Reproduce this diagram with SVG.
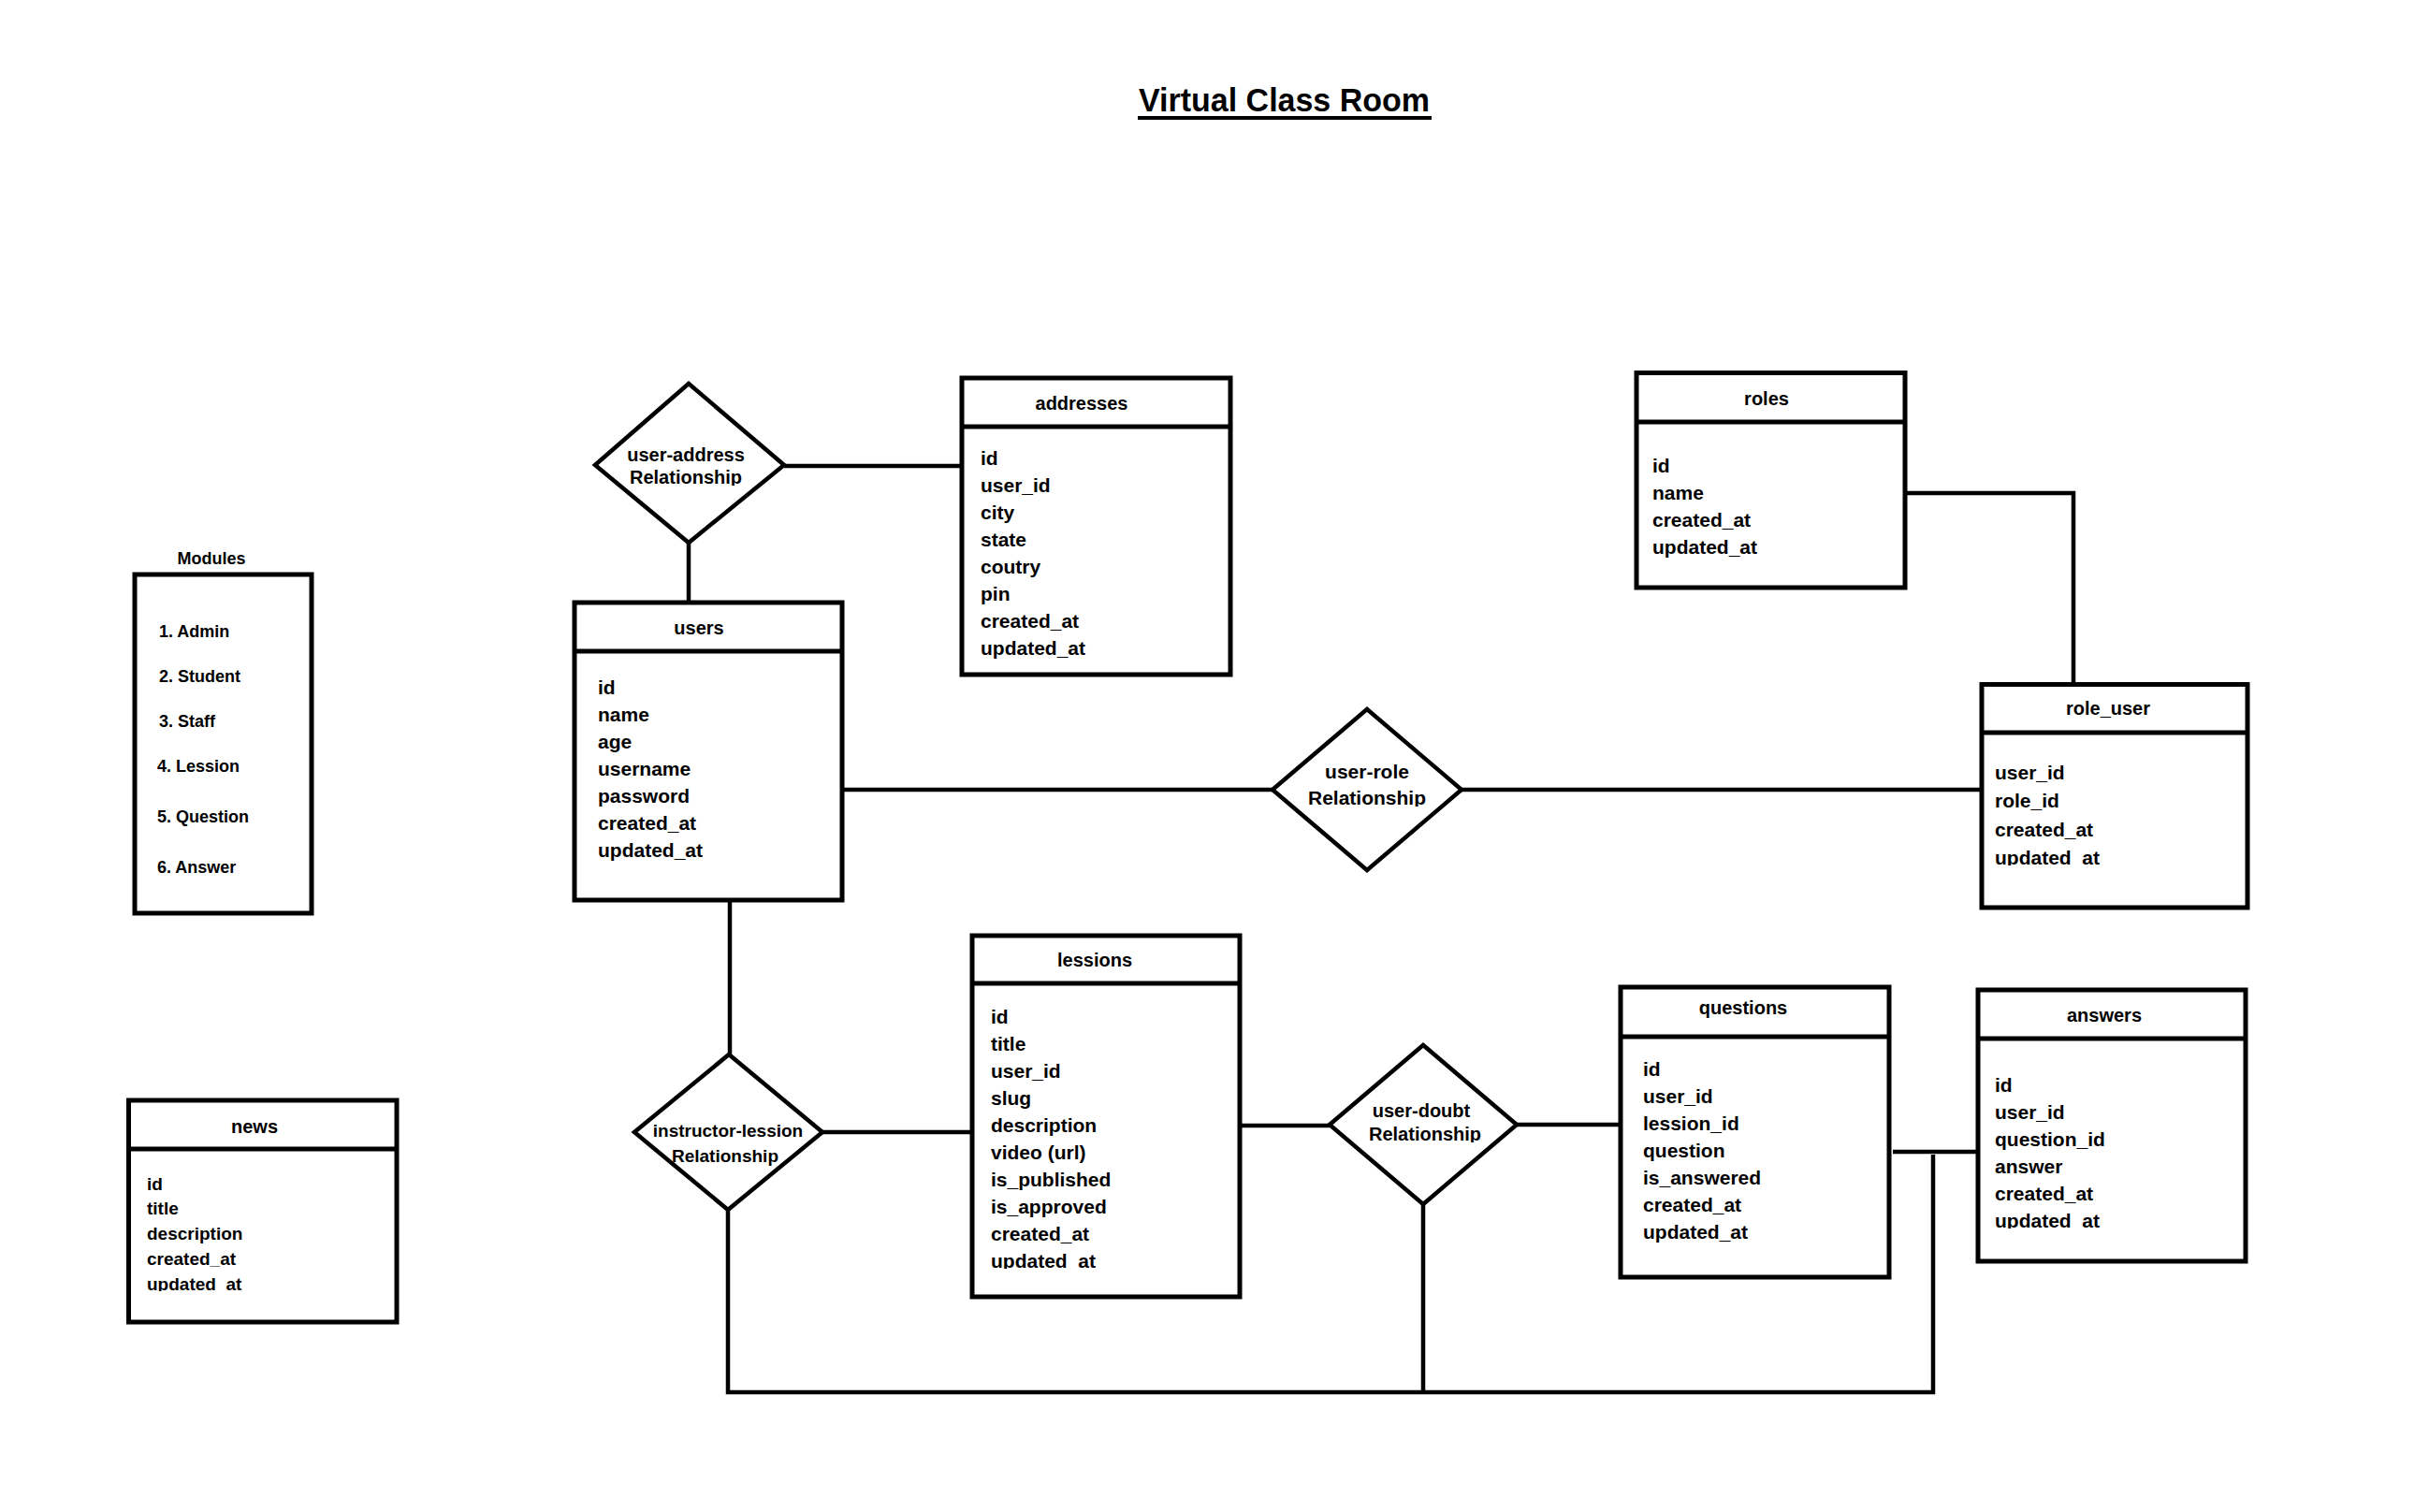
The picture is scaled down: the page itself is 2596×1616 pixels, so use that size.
<svg xmlns="http://www.w3.org/2000/svg" width="2596" height="1616" viewBox="0 0 2596 1616">
<style>
.bg{fill:#fff}
.box{fill:#fff;stroke:#000;stroke-width:5}
.div{stroke:#000;stroke-width:5}
.dia{fill:#fff;stroke:#000;stroke-width:4.5;stroke-linejoin:miter}
.conn{fill:none;stroke:#000;stroke-width:4.5}
text{font-family:"Liberation Sans",Arial,sans-serif;font-weight:bold;fill:#000}
.f{font-size:21px}
.h{font-size:20px;text-anchor:middle}
.n{font-size:19px}
.m{font-size:18px}
.d{text-anchor:middle}
</style>
<defs>
<clipPath id="clUA" clipPathUnits="userSpaceOnUse"><rect x="600" y="470" width="260" height="49"/></clipPath>
<clipPath id="clUR" clipPathUnits="userSpaceOnUse"><rect x="1360" y="800" width="200" height="62"/></clipPath>
<clipPath id="clUD" clipPathUnits="userSpaceOnUse"><rect x="1420" y="1170" width="200" height="51"/></clipPath>
<clipPath id="clLes" clipPathUnits="userSpaceOnUse"><rect x="1040" y="1330" width="280" height="26"/></clipPath>
<clipPath id="clNews" clipPathUnits="userSpaceOnUse"><rect x="140" y="1355" width="280" height="25"/></clipPath>
<clipPath id="clRU" clipPathUnits="userSpaceOnUse"><rect x="2120" y="900" width="280" height="25"/></clipPath>
<clipPath id="clAns" clipPathUnits="userSpaceOnUse"><rect x="2116" y="1288" width="280" height="25"/></clipPath>
</defs>
<rect class="bg" x="0" y="0" width="2596" height="1616"/>

<g id="title">
<text x="1217" y="119" font-size="35" textLength="311" lengthAdjust="spacingAndGlyphs">Virtual Class Room</text>
<rect x="1216" y="124" width="314" height="4" fill="#000"/>
</g>

<g id="connectors">
<path class="conn" d="M838,498 H1028"/>
<path class="conn" d="M736,580 V644"/>
<path class="conn" d="M900,844 H1360"/>
<path class="conn" d="M1562,844 H2118"/>
<path class="conn" d="M2036,527 H2216 V731"/>
<path class="conn" d="M780,962 V1127"/>
<path class="conn" d="M879,1210 H1039"/>
<path class="conn" d="M1325,1203 H1421"/>
<path class="conn" d="M1621,1202 H1732"/>
<path class="conn" d="M2023,1231 H2114"/>
<path class="conn" d="M778,1293 V1488 H2066 V1234"/>
<path class="conn" d="M1521,1287 V1488"/>
</g>

<g id="modules">
<text class="m" x="226" y="603" text-anchor="middle">Modules</text>
<rect class="box" x="144" y="614" width="189" height="362"/>
<text class="m" x="170" y="681">1. Admin</text>
<text class="m" x="170" y="729">2. Student</text>
<text class="m" x="170" y="777">3. Staff</text>
<text class="m" x="168" y="825">4. Lession</text>
<text class="m" x="168" y="879">5. Question</text>
<text class="m" x="168" y="933">6. Answer</text>
</g>

<g id="user-address">
<polygon class="dia" points="636,497 736,410 838,497 736,580"/>
<text class="d" x="733" y="493" font-size="20">user-address</text>
<text class="d" x="733" y="517" font-size="20" clip-path="url(#clUA)">Relationship</text>
</g>

<g id="addresses">
<rect class="box" x="1028" y="404" width="287" height="317"/>
<line class="div" x1="1028" y1="456" x2="1315" y2="456"/>
<text class="h" x="1156" y="438">addresses</text>
<text class="f" x="1048" y="497">id</text>
<text class="f" x="1048" y="526">user_id</text>
<text class="f" x="1048" y="555">city</text>
<text class="f" x="1048" y="584">state</text>
<text class="f" x="1048" y="613">coutry</text>
<text class="f" x="1048" y="642">pin</text>
<text class="f" x="1048" y="671">created_at</text>
<text class="f" x="1048" y="700">updated_at</text>
</g>

<g id="roles">
<rect class="box" x="1749" y="398.5" width="287" height="229.5"/>
<line class="div" x1="1749" y1="451" x2="2036" y2="451"/>
<text class="h" x="1888" y="433">roles</text>
<text class="f" x="1766" y="505">id</text>
<text class="f" x="1766" y="534">name</text>
<text class="f" x="1766" y="563">created_at</text>
<text class="f" x="1766" y="592">updated_at</text>
</g>

<g id="users">
<rect class="box" x="614" y="644" width="286" height="318"/>
<line class="div" x1="614" y1="696" x2="900" y2="696"/>
<text class="h" x="747" y="678">users</text>
<text class="f" x="639" y="742">id</text>
<text class="f" x="639" y="771">name</text>
<text class="f" x="639" y="800">age</text>
<text class="f" x="639" y="829">username</text>
<text class="f" x="639" y="858">password</text>
<text class="f" x="639" y="887">created_at</text>
<text class="f" x="639" y="916">updated_at</text>
</g>

<g id="user-role">
<polygon class="dia" points="1360,844 1461,758 1562,844 1461,930"/>
<text class="d" x="1461" y="832" font-size="21">user-role</text>
<text class="d" x="1461" y="860" font-size="21" clip-path="url(#clUR)">Relationship</text>
</g>

<g id="role_user">
<rect class="box" x="2118" y="731.5" width="284" height="238.5"/>
<line class="div" x1="2118" y1="783" x2="2402" y2="783"/>
<text class="h" x="2253" y="764">role_user</text>
<text class="f" x="2132" y="833">user_id</text>
<text class="f" x="2132" y="863">role_id</text>
<text class="f" x="2132" y="894">created_at</text>
<text class="f" x="2132" y="924" clip-path="url(#clRU)">updated_at</text>
</g>

<g id="news">
<rect class="box" x="137.5" y="1176" width="286.5" height="237"/>
<line class="div" x1="137.5" y1="1228" x2="424" y2="1228"/>
<text class="h" x="272" y="1211" font-size="18">news</text>
<text class="n" x="157" y="1272">id</text>
<text class="n" x="157" y="1298">title</text>
<text class="n" x="157" y="1325">description</text>
<text class="n" x="157" y="1352">created_at</text>
<text class="n" x="157" y="1379" clip-path="url(#clNews)">updated_at</text>
</g>

<g id="instructor-lession">
<polygon class="dia" points="678,1210 779,1127 879,1210 778,1293"/>
<text class="d" x="778" y="1215" font-size="19">instructor-lession</text>
<text class="d" x="775" y="1242" font-size="19">Relationship</text>
</g>

<g id="lessions">
<rect class="box" x="1039" y="1000" width="286" height="386"/>
<line class="div" x1="1039" y1="1051" x2="1325" y2="1051"/>
<text class="h" x="1170" y="1033">lessions</text>
<text class="f" x="1059" y="1094">id</text>
<text class="f" x="1059" y="1123">title</text>
<text class="f" x="1059" y="1152">user_id</text>
<text class="f" x="1059" y="1181">slug</text>
<text class="f" x="1059" y="1210">description</text>
<text class="f" x="1059" y="1239">video (url)</text>
<text class="f" x="1059" y="1268">is_published</text>
<text class="f" x="1059" y="1297">is_approved</text>
<text class="f" x="1059" y="1326">created_at</text>
<text class="f" x="1059" y="1355" clip-path="url(#clLes)">updated_at</text>
</g>

<g id="user-doubt">
<polygon class="dia" points="1421,1202 1521,1117 1621,1202 1521,1287"/>
<text class="d" x="1519" y="1194" font-size="20">user-doubt</text>
<text class="d" x="1523" y="1219" font-size="20" clip-path="url(#clUD)">Relationship</text>
</g>

<g id="questions">
<rect class="box" x="1732" y="1055" width="287" height="310"/>
<line class="div" x1="1732" y1="1108" x2="2019" y2="1108"/>
<text class="h" x="1863" y="1084">questions</text>
<text class="f" x="1756" y="1150">id</text>
<text class="f" x="1756" y="1179">user_id</text>
<text class="f" x="1756" y="1208">lession_id</text>
<text class="f" x="1756" y="1237">question</text>
<text class="f" x="1756" y="1266">is_answered</text>
<text class="f" x="1756" y="1295">created_at</text>
<text class="f" x="1756" y="1324">updated_at</text>
</g>

<g id="answers">
<rect class="box" x="2114" y="1058" width="286" height="290"/>
<line class="div" x1="2114" y1="1110" x2="2400" y2="1110"/>
<text class="h" x="2249" y="1092">answers</text>
<text class="f" x="2132" y="1167">id</text>
<text class="f" x="2132" y="1196">user_id</text>
<text class="f" x="2132" y="1225">question_id</text>
<text class="f" x="2132" y="1254">answer</text>
<text class="f" x="2132" y="1283">created_at</text>
<text class="f" x="2132" y="1312" clip-path="url(#clAns)">updated_at</text>
</g>
</svg>
